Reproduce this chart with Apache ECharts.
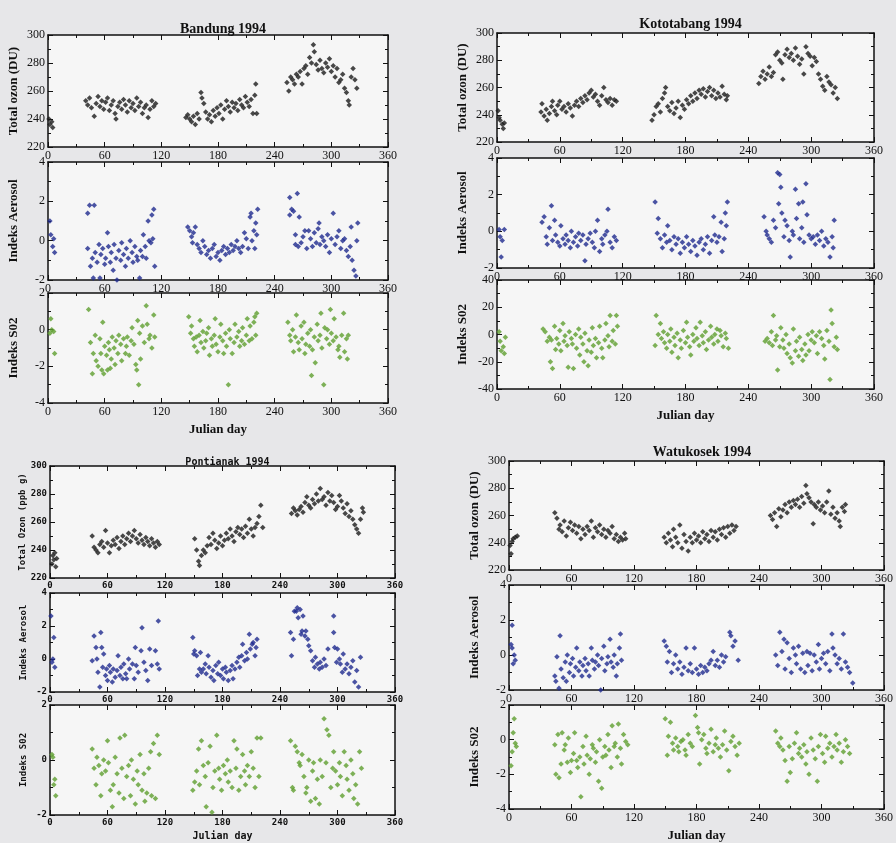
<!DOCTYPE html>
<html lang="en">
<head>
  <meta charset="UTF-8">
  <title>Ozon, Aerosol dan SO2 1994</title>
  <script src="https://cdn.jsdelivr.net/npm/echarts@6/dist/echarts.min.js"></script>
</head>
<body style="margin:0;background:#e7e7e9;">
<div id="chart" style="width:896px;height:843px;"></div>
<script>
  // [Julian day, value]
  const bandungOzon = [[1,240],[2,236],[4,238],[5,234],
    [40,253],[42,250],[44,255],[46,248],[49,242],[51,251],[53,256],[55,249],[57,253],[59,247],[61,252],[63,255],[65,246],[67,250],[69,253],[71,244],[72,240],[74,249],[76,252],[78,247],[80,254],[82,250],[84,245],[86,253],[88,248],[90,251],[92,246],[94,255],[96,249],[98,252],[100,244],[102,248],[104,250],[106,241],[108,247],[110,253],[112,249],[114,251],
    [146,241],[148,243],[150,240],[152,238],[154,242],[156,236],[158,244],[160,240],[162,259],[163,255],[165,251],[167,245],[169,240],[171,243],[173,238],[175,246],[177,242],[179,248],[181,244],[183,250],[185,240],[187,247],[189,253],[191,249],[193,245],[195,252],[197,248],[199,251],[201,246],[203,254],[205,250],[207,248],[209,256],[211,252],[213,249],[215,254],[217,244],[219,257],[220,265],[221,244],
    [253,266],[255,260],[257,270],[259,268],[261,265],[263,272],[265,270],[267,274],[269,265],[271,276],[273,278],[275,272],[277,284],[279,280],[281,293],[282,288],[284,279],[286,275],[288,282],[290,276],[292,273],[294,280],[296,277],[298,283],[300,274],[302,278],[304,270],[306,276],[308,266],[310,268],[312,272],[314,262],[316,259],[318,253],[319,250],[321,270],[323,276],[325,268],[327,262]];
  const bandungAerosol = [[2,1.0],[3,0.3],[5,-0.3],[7,-0.6],[6,0.1],
    [42,1.4],[44,1.8],[49,1.8],[42,-0.4],[45,-1.3],[47,-0.9],[48,-1.9],[50,-0.6],[52,-1.1],[54,-0.2],[55,-1.9],[56,-0.7],[58,-0.4],[60,-1.2],[61,-0.9],[63,0.4],[64,-0.3],[66,-1.1],[67,-0.6],[69,-1.5],[70,-0.2],[72,-0.9],[73,-2.0],[75,-0.5],[77,-1.0],[78,-0.1],[80,-0.7],[82,-1.3],[83,-0.4],[85,-0.9],[87,0.0],[89,-0.6],[90,-1.1],[92,-0.3],[94,-0.8],[95,-1.0],[97,-1.9],[98,-0.5],[100,-0.8],[101,0.3],[103,-0.3],[104,-0.9],[106,1.0],[107,0.0],[109,-0.1],[110,1.3],[112,1.6],[113,-1.3],[111,0.1],
    [148,0.7],[150,0.5],[152,0.2],[154,0.4],[156,0.7],[153,-0.1],[158,-0.2],[160,-0.4],[162,-0.6],[164,0.0],[166,-0.3],[168,-0.7],[170,-0.5],[172,-0.9],[174,-0.4],[176,-0.2],[178,-0.8],[180,-0.6],[182,-1.0],[184,-0.5],[186,-0.3],[188,-0.7],[190,-0.4],[192,-0.6],[194,-0.2],[196,-0.5],[198,-0.3],[200,0.0],[202,-0.4],[204,-0.6],[206,-0.3],[208,0.4],[210,0.1],[212,-0.4],[214,1.2],[215,1.4],[216,0.0],[218,0.5],[219,-0.4],[220,0.9],[222,1.6],[221,0.3],
    [256,2.2],[258,1.6],[256,1.3],[260,1.5],[262,0.3],[264,2.4],[266,1.2],[262,-0.2],[265,-0.3],[268,-0.1],[270,0.2],[272,0.5],[274,-0.4],[276,0.5],[278,0.1],[280,-0.3],[282,0.4],[284,-0.1],[286,0.6],[287,0.9],[288,-0.2],[290,0.2],[292,0.0],[294,-0.3],[296,0.3],[298,-0.6],[300,0.1],[302,1.4],[304,-0.2],[306,0.2],[308,0.5],[310,-0.4],[312,0.0],[314,0.1],[316,-0.5],[318,-0.8],[320,-0.3],[321,0.7],[322,-1.0],[324,-1.5],[326,-1.8],[327,0.0],[328,0.9]];
  const bandungSO2 = [[3,0.6],[2,-0.2],[4,0.0],[6,-0.1],[7,-1.3],
    [43,1.1],[45,-0.7],[47,-2.4],[48,-1.3],[50,-0.3],[51,-1.7],[53,-2.0],[55,-0.5],[56,-1.3],[57,-2.2],[58,0.4],[59,-2.4],[60,-0.9],[62,-1.4],[63,-2.2],[64,-0.7],[65,-1.1],[66,-2.1],[67,-1.6],[68,-0.4],[70,-1.0],[71,-1.9],[72,-0.6],[74,-1.3],[75,-0.3],[77,-0.8],[78,-1.7],[80,-0.5],[82,-1.3],[83,-0.9],[84,-0.4],[86,-1.4],[88,-0.6],[89,0.1],[91,-0.8],[93,-1.9],[94,-2.2],[95,0.5],[96,-3.0],[97,-0.2],[98,-1.6],[100,0.2],[102,-0.7],[104,1.3],[105,0.3],[107,-0.5],[108,-0.3],[110,-1.0],[112,0.8],[113,-0.4],
    [149,0.7],[151,-0.2],[152,0.2],[154,-0.5],[155,-0.9],[157,-0.4],[158,-1.2],[160,-0.3],[161,0.5],[162,-0.7],[164,-0.1],[165,-1.0],[167,-0.6],[168,-0.2],[170,0.1],[171,-1.4],[173,-0.5],[174,-0.9],[176,-0.3],[177,0.6],[178,-0.8],[180,-1.2],[182,-0.4],[183,0.3],[185,-0.6],[186,-1.3],[188,-0.2],[189,-0.9],[191,-3.0],[192,0.0],[193,-0.5],[195,-1.3],[197,-0.7],[198,0.3],[200,-0.4],[202,-0.1],[203,-0.9],[205,-0.6],[206,0.1],[208,-0.8],[210,-0.3],[211,0.6],[213,-0.6],[214,0.2],[216,-0.5],[218,0.4],[219,0.7],[220,-0.3],[221,0.9],
    [254,0.4],[256,-0.3],[257,-0.6],[259,0.0],[260,-1.2],[262,-0.4],[263,0.8],[265,-0.7],[266,-1.1],[268,0.2],[269,-0.5],[271,0.4],[272,-1.3],[273,-0.8],[275,-0.2],[277,-0.9],[278,0.0],[279,-2.5],[280,-1.1],[282,-0.4],[283,-1.8],[285,0.3],[286,-0.6],[288,-0.3],[289,0.9],[290,-1.0],[292,-3.0],[293,0.1],[295,-0.5],[296,0.0],[298,-0.8],[299,1.1],[300,-0.2],[302,-0.6],[303,0.6],[305,-0.4],[307,-1.1],[308,-0.9],[309,-1.5],[311,-0.3],[313,0.9],[314,-1.2],[316,-0.5],[317,-1.6],[318,-0.3]];

  const kototabangOzon = [[1,243],[2,238],[3,236],[5,233],[6,230],[7,234],
    [42,242],[43,248],[45,239],[47,244],[48,236],[50,241],[52,246],[53,250],[55,243],[57,240],[58,247],[60,250],[62,244],[64,246],[66,242],[68,248],[70,245],[72,239],[74,247],[76,250],[78,246],[80,252],[82,249],[84,254],[86,251],[88,256],[90,258],[92,253],[94,255],[96,250],[98,247],[100,254],[102,260],[104,251],[106,249],[108,252],[110,247],[112,251],[114,250],
    [148,236],[150,240],[152,246],[154,248],[156,242],[158,252],[160,256],[161,260],[163,246],[165,243],[167,249],[169,241],[171,245],[173,250],[175,238],[177,247],[179,244],[181,251],[183,248],[185,254],[187,250],[189,256],[191,252],[193,258],[195,255],[197,259],[199,253],[201,257],[203,260],[205,254],[207,258],[209,252],[211,256],[213,253],[215,261],[217,255],[219,251],[220,254],
    [250,263],[252,268],[254,272],[256,266],[258,270],[260,275],[262,268],[264,271],[266,284],[268,286],[270,280],[272,278],[273,266],[275,284],[277,288],[279,282],[281,285],[283,280],[285,289],[287,283],[289,277],[291,281],[293,270],[295,290],[297,285],[299,283],[301,276],[303,282],[305,279],[307,270],[309,266],[311,261],[313,258],[315,268],[317,264],[319,262],[321,256],[323,260],[325,252]];
  const kototabangAerosol = [[2,0.1],[3,-0.3],[5,-0.5],[7,0.1],[4,-1.4],
    [43,0.5],[45,0.8],[47,-0.3],[48,-0.7],[50,0.2],[52,1.4],[53,-0.5],[55,0.6],[56,-0.2],[58,-0.6],[60,-0.8],[61,0.3],[63,-0.4],[65,-0.7],[66,-0.2],[68,-0.5],[70,-0.9],[71,0.0],[73,-0.6],[75,-0.3],[77,-0.8],[78,-0.1],[80,-0.5],[82,-0.2],[84,-1.6],[85,-0.7],[87,-0.4],[89,-0.1],[91,-0.6],[93,-0.9],[94,0.0],[96,0.6],[98,-1.1],[100,-0.4],[101,-0.7],[103,-0.2],[105,0.0],[106,1.2],[108,-0.6],[110,-0.9],[112,-0.3],[114,-0.5],
    [151,1.6],[154,0.7],[153,-0.1],[156,-0.4],[158,-0.9],[160,-0.2],[162,-0.6],[163,0.3],[165,-0.5],[167,-1.0],[169,-0.3],[171,-0.7],[173,-0.4],[175,-1.2],[177,-0.6],[179,-0.9],[181,-0.3],[183,-0.7],[185,-1.1],[187,-0.5],[189,-0.8],[191,-1.3],[193,-0.6],[195,-0.4],[197,-1.0],[199,-0.7],[201,-0.3],[203,-1.2],[205,-0.5],[207,0.8],[208,-0.2],[210,-0.6],[212,-0.3],[214,0.5],[215,-1.1],[217,-0.4],[219,0.3],[220,1.6],[218,1.0],
    [255,0.8],[257,0.0],[258,-0.2],[260,-0.4],[262,-0.6],[264,0.6],[266,0.2],[268,3.2],[270,3.1],[269,1.5],[271,2.4],[272,1.0],[274,-0.3],[275,0.6],[277,0.3],[279,-0.5],[280,-1.4],[282,0.0],[283,-0.2],[285,2.3],[286,0.7],[288,1.5],[289,-0.4],[291,0.2],[292,1.6],[293,-0.6],[295,2.6],[296,0.9],[298,-0.2],[300,-0.4],[302,-0.3],[304,-0.7],[306,-0.2],[308,-0.5],[310,0.0],[312,-0.8],[314,-0.4],[316,-0.6],[318,-1.4],[320,-0.3],[322,0.6],[321,-0.9]];
  const kototabangSO2 = [[2,2],[3,-5],[4,-12],[6,-9],[7,-14],[8,-2],
    [44,4],[46,2],[48,-5],[50,-2],[51,-20],[52,-4],[53,-25],[55,6],[56,-11],[57,-3],[59,-7],[60,3],[61,-12],[63,8],[64,-5],[65,-1],[67,-8],[68,-24],[69,2],[71,-3],[72,-7],[73,-25],[75,0],[76,-10],[78,4],[79,-15],[80,-2],[82,-7],[83,-20],[84,1],[86,-12],[87,-23],[88,-4],[90,-13],[91,5],[92,-8],[94,-3],[95,-17],[97,-6],[98,6],[100,-10],[101,-17],[103,-4],[104,8],[106,-1],[107,-9],[108,14],[110,-5],[111,3],[113,-7],[114,14],[115,6],
    [151,-8],[152,14],[154,0],[156,8],[157,-3],[159,2],[160,-6],[162,-10],[163,0],[165,-5],[166,4],[167,-13],[169,-2],[170,-8],[172,1],[173,-17],[175,-4],[176,-10],[178,3],[180,-6],[181,9],[182,-2],[184,-9],[185,-15],[187,0],[188,-5],[190,5],[191,-3],[193,-8],[194,9],[196,-1],[197,-6],[199,2],[200,-11],[202,-4],[204,6],[205,-2],[207,-7],[208,0],[210,4],[211,-5],[213,3],[214,-1],[216,-9],[218,1],[219,-3],[221,-10],
    [256,-5],[258,-3],[260,-6],[262,2],[263,-8],[264,14],[266,-4],[267,-1],[268,-26],[270,-9],[271,5],[273,-4],[274,-10],[276,0],[277,-14],[279,-7],[280,-17],[282,-21],[283,4],[285,-12],[286,-5],[288,-16],[289,-2],[291,-11],[292,-19],[294,-7],[295,-15],[297,0],[298,-12],[300,-4],[301,2],[303,-6],[305,-1],[306,-14],[308,2],[310,-3],[312,-8],[313,-18],[315,3],[317,-5],[318,-33],[319,18],[320,8],[322,-9],[324,-2],[325,-11]];

  const pontianakOzon = [[2,230],[3,236],[4,233],[5,238],[6,228],[7,234],
    [44,250],[46,242],[48,240],[50,238],[52,244],[54,246],[56,242],[58,254],[60,245],[62,238],[64,243],[66,247],[68,244],[70,249],[72,241],[74,246],[76,250],[78,244],[80,248],[82,252],[84,246],[86,250],[88,254],[90,248],[92,245],[94,251],[96,247],[98,244],[100,249],[102,246],[104,243],[106,248],[108,245],[110,242],[112,246],[114,244],
    [151,248],[153,240],[155,232],[156,229],[158,236],[160,240],[162,238],[164,243],[166,249],[168,244],[170,252],[172,247],[174,241],[176,245],[178,250],[180,243],[182,247],[184,252],[186,248],[188,255],[190,250],[192,246],[194,253],[196,256],[198,251],[200,255],[202,249],[204,257],[206,252],[208,262],[210,255],[212,250],[214,256],[216,259],[218,264],[220,272],[222,256],
    [252,266],[254,270],[256,268],[258,265],[260,269],[262,271],[264,267],[266,274],[268,278],[270,272],[272,270],[274,276],[276,273],[278,280],[280,275],[282,284],[284,276],[286,278],[288,272],[290,281],[292,275],[294,279],[296,274],[298,269],[300,271],[302,279],[304,275],[306,270],[308,266],[310,273],[312,264],[314,268],[316,262],[318,258],[320,255],[322,252],[324,262],[326,270],[327,267]];
  const pontianakAerosol = [[1,2.6],[2,-0.2],[3,0.0],[4,1.3],[5,-0.5],
    [44,-0.1],[46,1.4],[48,0.7],[49,0.0],[50,-0.8],[52,-1.7],[53,1.6],[54,0.7],[55,-0.5],[56,0.3],[58,-1.0],[59,-0.6],[60,-1.3],[62,-0.4],[63,-0.8],[65,-1.4],[66,-0.6],[68,-1.1],[70,-0.7],[71,0.2],[73,-1.0],[74,-0.5],[76,-1.2],[77,-0.3],[79,-0.9],[80,-1.2],[82,0.0],[83,-0.6],[96,1.9],[86,-0.3],[88,-1.2],[89,0.7],[90,-0.4],[92,-0.8],[95,0.5],[98,-0.2],[100,-0.7],[102,-1.3],[104,0.6],[106,-0.4],[113,2.3],[110,0.5],[112,-0.3],[114,-0.6],
    [149,1.3],[150,0.3],[151,0.5],[153,0.2],[154,-1.0],[156,-0.6],[157,0.4],[158,-0.8],[160,-0.6],[162,-0.3],[163,-0.9],[165,0.2],[166,-0.5],[168,-1.1],[170,-0.7],[171,-1.3],[173,-0.4],[175,-0.9],[176,-0.2],[178,-1.0],[180,-0.6],[181,-1.2],[183,-0.5],[184,-0.8],[186,-1.3],[188,-0.7],[190,-0.4],[191,-1.2],[193,-0.6],[195,-0.2],[197,0.1],[198,-0.5],[200,0.2],[201,0.9],[203,-0.1],[205,0.4],[206,0.0],[208,1.5],[209,0.6],[211,0.9],[212,1.0],[214,0.2],[215,0.7],[216,1.2],
    [251,1.6],[252,0.2],[254,1.2],[255,2.9],[257,2.9],[258,3.1],[259,2.5],[261,3.0],[262,1.5],[263,1.7],[264,2.6],[266,1.4],[267,1.7],[269,1.2],[270,0.8],[272,0.5],
    [274,-0.1],[276,-0.5],[277,0.1],[279,-0.3],[281,-0.6],[282,-0.2],[284,-0.5],[286,0.0],[288,-0.4],[290,0.6],[296,2.6],[296,1.6],[297,0.7],[299,-0.2],[300,0.6],[302,0.0],[303,-0.3],[305,-0.8],[306,0.3],[308,-0.6],[310,-0.3],[312,-0.9],[314,-0.5],[316,-0.1],[318,-1.4],[320,-0.7],[322,-1.7],[324,0.1]];
  const pontianakSO2 = [[2,0.2],[3,0.1],[4,-0.9],[5,-0.7],[6,-1.3],
    [44,0.4],[46,-0.3],[48,-0.9],[49,0.1],[51,-0.2],[53,-1.3],[54,-0.5],[56,0.0],[58,-0.4],[60,0.7],[61,-0.1],[63,-1.1],[65,-1.7],[66,-0.9],[68,0.1],[70,-0.5],[72,-1.2],[73,0.8],[75,-0.3],[77,-1.4],[78,0.9],[80,-0.6],[82,-0.2],[84,-1.3],[85,0.0],[87,-0.7],[89,-1.6],[91,-0.4],[92,-0.9],[94,0.2],[96,-1.1],[98,-0.5],[99,-1.5],[101,-1.2],[103,-0.3],[105,0.3],[106,-1.3],[108,0.6],[110,-1.4],[112,0.9],[114,0.2],
    [149,-1.1],[151,-0.8],[153,-0.4],[155,0.4],[156,-0.9],[158,0.7],[160,-0.2],[162,-0.6],[163,-1.7],[165,-0.1],[167,0.5],[169,-1.9],[170,-1.0],[172,-0.4],[174,0.9],[176,-0.3],[177,-0.7],[179,-1.1],[181,-0.2],[183,-0.5],[185,0.0],[186,-0.8],[188,-0.4],[190,-1.0],[192,0.7],[194,-0.3],[195,0.4],[197,-1.1],[199,-0.6],[201,0.2],[203,-0.4],[204,-0.9],[206,-0.2],[208,-0.6],[210,0.3],[212,-0.3],[214,-1.0],[216,0.8],[218,-0.6],[220,0.8],
    [251,0.7],[253,-1.0],[254,-1.1],[256,0.5],[258,0.3],[260,-0.1],[261,-0.2],[263,0.2],[265,-0.6],[267,-1.2],[268,-1.0],[270,0.0],[272,-1.5],[274,-0.4],[275,-0.1],[277,-1.4],[279,-0.7],[281,-1.6],[282,0.0],[284,-0.6],[286,1.5],[288,-0.1],[289,1.1],[291,0.9],[293,-1.0],[295,-0.3],[296,0.3],[298,-0.4],[300,-0.9],[302,-0.1],[303,-0.6],[305,-1.3],[307,0.3],[309,-0.2],[310,-0.7],[312,-1.1],[314,0.0],[316,-0.5],[317,-1.4],[319,-0.9],[321,-1.6],[323,0.3],[325,-0.3]];

  const watukosekOzon = [[1,238],[2,232],[3,241],[4,243],[6,244],[8,245],
    [44,262],[46,258],[48,250],[49,253],[51,248],[53,256],[55,245],[57,251],[59,255],[61,249],[63,253],[65,247],[67,252],[69,243],[71,250],[73,246],[75,252],[77,249],[79,256],[81,244],[83,251],[85,248],[87,253],[89,246],[91,250],[93,244],[95,249],[97,247],[99,252],[101,243],[103,246],[105,241],[107,244],[109,242],[111,247],[112,243],
    [149,244],[151,240],[153,247],[155,242],[157,237],[158,250],[160,244],[162,240],[164,253],[166,236],[168,246],[170,241],[172,234],[174,244],[176,240],[178,247],[180,242],[182,245],[184,240],[186,248],[188,243],[190,246],[192,241],[194,249],[196,244],[198,248],[200,242],[202,250],[204,246],[206,251],[208,244],[210,252],[212,247],[214,253],[216,249],[218,252],
    [251,260],[253,257],[255,262],[257,252],[259,265],[261,259],[263,264],[265,268],[267,262],[269,270],[271,266],[273,271],[275,268],[277,272],[279,266],[281,274],[283,269],[285,282],[286,276],[288,273],[290,270],[292,254],[293,268],[295,266],[297,270],[299,264],[301,267],[303,262],[305,270],[307,278],[309,261],[311,266],[313,258],[315,262],[317,256],[318,252],[320,266],[322,263],[323,268]];
  const watukosekAerosol = [[2,0.6],[3,0.4],[4,-0.5],[5,0.0],[6,-0.3],[3,1.7],
    [44,-1.2],[45,-1.5],[46,-0.1],[48,-1.9],[49,1.1],[50,-0.8],[52,-1.3],[54,-0.4],[55,-1.5],[56,0.0],[58,-1.0],[59,-0.5],[61,-0.2],[62,-1.2],[64,-0.7],[65,0.4],[67,-0.9],[68,-0.4],[70,-1.2],[71,-0.6],[73,-0.2],[74,-0.9],[76,-0.5],[77,-1.2],[79,0.4],[80,-0.3],[82,-0.8],[83,-0.4],[85,0.0],[86,-0.6],[88,-2.0],[89,-0.2],[91,0.5],[92,-0.9],[94,-0.5],[95,-0.1],[97,0.9],[98,-0.4],[100,-0.7],[101,0.0],[103,-1.2],[104,-0.5],[106,0.4],[107,1.2],[108,-0.3],
    [149,0.8],[151,0.5],[152,-0.4],[154,0.2],[156,-1.0],[158,-0.5],[160,0.0],[162,-0.8],[164,-0.4],[166,-1.1],[168,-0.7],[170,0.4],[172,-0.9],[174,-0.5],[176,-1.0],[178,0.4],[180,-0.8],[182,-1.1],[184,-0.6],[186,-1.0],[188,-0.7],[190,-0.9],[192,-0.5],[194,-0.3],[196,0.2],[198,-0.6],[200,-0.3],[202,-0.7],[204,0.0],[206,-0.4],[208,-0.1],[212,1.3],[213,1.1],[215,0.5],[217,0.8],[220,-0.3],
    [256,0.0],[258,-0.6],[260,1.3],[262,0.2],[264,0.9],[265,-0.8],[267,0.7],[269,-0.2],[271,-1.0],[273,0.4],[275,0.0],[276,-0.5],[278,0.5],[280,-0.8],[282,0.1],[284,-1.0],[286,0.2],[287,-0.6],[289,0.1],[291,-0.9],[293,0.0],[295,-0.4],[297,0.6],[298,-0.8],[300,-0.2],[302,0.1],[304,-0.5],[306,0.2],[308,-0.9],[310,1.2],[311,0.4],[313,0.0],[315,-0.5],[317,-0.2],[319,-0.8],[321,1.2],[323,-0.4],[325,-0.7],[327,-1.0],[330,-1.6]];
  const watukosekSO2 = [[2,-1.5],[3,-0.7],[4,0.4],[5,1.2],[6,-0.2],[7,-0.4],
    [44,-0.3],[45,-2.0],[47,0.3],[48,-2.2],[50,-1.4],[51,0.4],[53,-0.6],[54,-0.3],[56,-1.3],[57,0.1],[59,-1.9],[60,-1.2],[62,-0.8],[63,0.4],[65,-1.2],[66,-1.6],[68,-1.0],[69,-3.3],[71,-0.4],[72,-1.4],[74,0.2],[75,-0.9],[77,-2.0],[78,-1.1],[80,-0.3],[81,-0.5],[83,-1.3],[84,-0.7],[86,-2.4],[87,0.0],[89,-2.8],[90,-1.0],[92,-0.4],[93,-0.9],[95,0.3],[96,-0.6],[98,-1.6],[99,0.8],[101,-0.4],[102,-0.2],[104,-1.0],[105,0.9],[107,-0.5],[108,-1.4],[110,0.3],[112,-0.1],[114,-0.3],
    [150,1.2],[152,-0.9],[153,0.2],[155,1.0],[157,-0.2],[158,-0.6],[160,0.1],[162,-0.4],[163,-0.7],[165,-0.1],[167,0.0],[169,-0.6],[170,-0.9],[172,0.3],[174,-0.2],[176,-0.4],[179,1.4],[181,0.7],[182,0.4],[183,-1.4],[185,0.0],[187,0.3],[189,-0.5],[190,-0.8],[192,-0.2],[194,0.6],[196,-0.7],[198,-0.3],[199,0.1],[201,-0.5],[203,-1.0],[205,-0.3],[207,0.5],[209,-0.6],[211,-1.8],[213,-0.1],[215,0.2],[217,-0.4],[219,-0.9],[221,-0.2],
    [256,0.5],[258,-0.2],[260,-0.4],[261,0.1],[263,-0.6],[265,-1.2],[267,-2.4],[269,-0.4],[270,-1.9],[272,-1.1],[274,-0.2],[276,0.4],[278,-0.8],[279,-0.5],[281,-1.0],[283,-0.3],[285,-1.4],[286,-0.7],[288,-2.0],[290,0.1],[292,-0.6],[294,-1.1],[296,-2.4],[297,-0.4],[299,0.3],[301,-0.8],[303,-1.3],[304,0.2],[306,-0.5],[308,-0.2],[310,-1.0],[312,-0.4],[314,0.3],[315,-0.6],[317,-0.2],[319,-1.3],[321,-0.7],[323,0.0],[325,-0.4],[327,-0.8]];

  const dayMin = 0, dayMax = 360, dayStep = 60;
  const ozonColor = '#1b1b1b', aerosolColor = '#1f2b8f', so2Color = '#5f9f2f';
  const serif = 'Liberation Serif';
  const pixelFont = 'DejaVu Sans Mono';

  // station blocks: title + three stacked plots
  const stations = [
    { title: 'Bandung 1994', titleTop: 17, left: 48, width: 340, font: serif, small: false,
      rows: [
        { top: 35, height: 112, data: bandungOzon, min: 220, max: 300, step: 20, color: ozonColor, name: 'Total ozon (DU)' },
        { top: 162, height: 118, data: bandungAerosol, min: -2, max: 4, step: 2, color: aerosolColor, name: 'Indeks Aerosol' },
        { top: 293, height: 110, data: bandungSO2, min: -4, max: 2, step: 2, color: so2Color, name: 'Indeks S02' }
      ] },
    { title: 'Kototabang 1994', titleTop: 12, left: 497, width: 377, font: serif, small: false,
      rows: [
        { top: 33, height: 109, data: kototabangOzon, min: 220, max: 300, step: 20, color: ozonColor, name: 'Total ozon (DU)' },
        { top: 158, height: 110, data: kototabangAerosol, min: -2, max: 4, step: 2, color: aerosolColor, name: 'Indeks Aerosol' },
        { top: 280, height: 109, data: kototabangSO2, min: -40, max: 40, step: 20, color: so2Color, name: 'Indeks S02' }
      ] },
    { title: 'Pontianak 1994', titleTop: 452, left: 50, width: 345, font: pixelFont, small: true,
      rows: [
        { top: 466, height: 112, data: pontianakOzon, min: 220, max: 300, step: 20, color: ozonColor, name: 'Total Ozon (ppb g)' },
        { top: 593, height: 99, data: pontianakAerosol, min: -2, max: 4, step: 2, color: aerosolColor, name: 'Indeks Aerosol' },
        { top: 705, height: 110, data: pontianakSO2, min: -2, max: 2, step: 2, color: so2Color, name: 'Indeks S02' }
      ] },
    { title: 'Watukosek 1994', titleTop: 440, left: 509, width: 376, font: serif, small: false,
      rows: [
        { top: 461, height: 109, data: watukosekOzon, min: 220, max: 300, step: 20, color: ozonColor, name: 'Total ozon (DU)' },
        { top: 585, height: 105, data: watukosekAerosol, min: -2, max: 4, step: 2, color: aerosolColor, name: 'Indeks Aerosol' },
        { top: 705, height: 108, data: watukosekSO2, min: -4, max: 2, step: 2, color: so2Color, name: 'Indeks S02' }
      ] }
  ];

  const grid = [], xAxis = [], yAxis = [], series = [], title = [];
  const ink = '#111';

  stations.forEach(function (st) {
    title.push({
      text: st.title,
      left: st.left + st.width / 2,
      top: st.titleTop,
      textAlign: 'center',
      textStyle: { fontFamily: st.font, fontWeight: 'bold', fontSize: st.small ? 10 : 14, color: ink }
    });
    st.rows.forEach(function (r, i) {
      const g = grid.length;
      const last = i === st.rows.length - 1;
      const labelFont = { fontFamily: st.font, fontSize: st.small ? 9 : 12, color: ink, fontWeight: st.small ? 'bold' : 'normal' };
      grid.push({ left: st.left, top: r.top, width: st.width, height: r.height, show: true, backgroundColor: '#f6f6f6', borderWidth: 0 });
      const xi = xAxis.length, yi = yAxis.length;
      const tickStyle = { show: true, inside: true, length: 5, lineStyle: { color: ink } };
      const minor = { show: true, splitNumber: 2, length: 3, lineStyle: { color: ink } };
      xAxis.push({
        gridIndex: g, type: 'value', min: dayMin, max: dayMax, interval: dayStep,
        axisLine: { onZero: false, lineStyle: { color: ink, width: 1.5 } },
        axisTick: tickStyle, minorTick: minor, splitLine: { show: false },
        axisLabel: Object.assign({ margin: 3 }, labelFont),
        name: last ? 'Julian day' : '', nameLocation: 'middle', nameGap: st.small ? 16 : 20,
        nameTextStyle: { fontFamily: st.font, fontWeight: 'bold', fontSize: st.small ? 10 : 13, color: ink }
      });
      xAxis.push({
        gridIndex: g, type: 'value', position: 'top', min: dayMin, max: dayMax, interval: dayStep,
        axisLine: { onZero: false, lineStyle: { color: ink, width: 1.5 } },
        axisTick: tickStyle, minorTick: minor, splitLine: { show: false }, axisLabel: { show: false }
      });
      yAxis.push({
        gridIndex: g, type: 'value', min: r.min, max: r.max, interval: r.step,
        axisLine: { onZero: false, lineStyle: { color: ink, width: 1.5 } },
        axisTick: tickStyle, minorTick: minor, splitLine: { show: false },
        axisLabel: Object.assign({ margin: 3 }, labelFont),
        name: r.name, nameLocation: 'middle', nameRotate: 90, nameGap: st.small ? 22 : 28,
        nameTextStyle: { fontFamily: st.font, fontWeight: 'bold', fontSize: st.small ? 9 : 13, color: ink }
      });
      yAxis.push({
        gridIndex: g, type: 'value', position: 'right', min: r.min, max: r.max, interval: r.step,
        axisLine: { onZero: false, lineStyle: { color: ink, width: 1.5 } },
        axisTick: tickStyle, minorTick: minor, splitLine: { show: false }, axisLabel: { show: false }
      });
      series.push({
        type: 'scatter', xAxisIndex: xi, yAxisIndex: yi,
        symbol: 'diamond', symbolSize: 5.5,
        itemStyle: { color: r.color },
        data: r.data
      });
    });
  });

  const chart = echarts.init(document.getElementById('chart'));
  chart.setOption({
    backgroundColor: '#e7e7e9',
    animation: false,
    title: title,
    grid: grid,
    xAxis: xAxis,
    yAxis: yAxis,
    series: series
  });
</script>
</body>
</html>
